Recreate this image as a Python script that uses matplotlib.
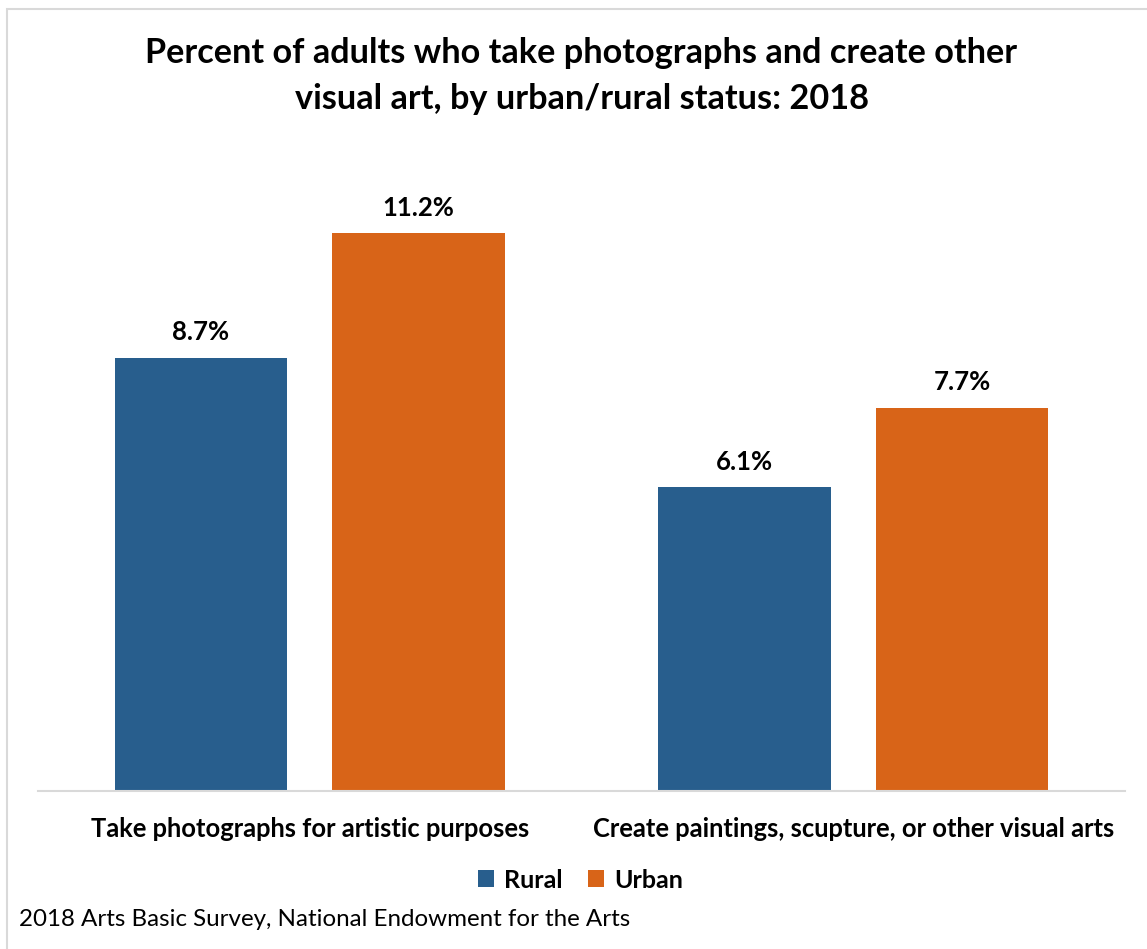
import numpy as np
import matplotlib.pyplot as plt
from matplotlib.patches import Rectangle

# Survey results, percent of adults
categories = ['Take photographs for artistic purposes',
              'Create paintings, scupture, or other visual arts']
series = ['Rural', 'Urban']
rural = [8.7, 6.1]
urban = [11.2, 7.7]
colors = ['#285E8D', '#D86418']

plt.rcParams['font.family'] = ['Lato', 'DejaVu Sans']

fig = plt.figure(figsize=(11.47, 9.49), dpi=100)
ax = fig.add_axes([38 / 1147, 1 - 791 / 949, 1087 / 1147, 622.5 / 949])

x = np.arange(len(categories))
width = 0.317
offset = 0.2
for vals, name, c, dx in [(rural, series[0], colors[0], -offset),
                          (urban, series[1], colors[1], offset)]:
    bars = ax.bar(x + dx, vals, width, color=c, label=name)
    for b, v in zip(bars, vals):
        ax.annotate(f'{v:.1f}%', (b.get_x() + b.get_width() / 2, v),
                    xytext=(0, 18.5), textcoords='offset points',
                    ha='center', va='center', fontsize=18.5, fontweight='bold')

ax.set_xlim(-0.5, 1.5)
ax.set_ylim(0, 12.5)
ax.set_yticks([])
ax.set_xticks(x)
ax.set_xticklabels(categories, fontsize=18.4, fontweight='bold')
ax.tick_params(axis='x', length=0, pad=19)
for s in ['top', 'right', 'left']:
    ax.spines[s].set_visible(False)
ax.spines['bottom'].set_color('#D9D9D9')
ax.spines['bottom'].set_linewidth(1.5)

fig.text(0.507, 1 - 76 / 949,
         'Percent of adults who take photographs and create other\n'
         'visual art, by urban/rural status: 2018',
         ha='center', va='center', fontsize=24.7, fontweight='bold',
         linespacing=1.55)

leg = fig.legend(loc='center', bbox_to_anchor=(0.506, 1 - 880 / 949), ncol=2,
                 frameon=False, handlelength=0.65, handleheight=0.65,
                 handletextpad=0.4, columnspacing=1.0,
                 prop={'size': 18, 'weight': 'bold'})

fig.text(19 / 1147, 1 - 920 / 949,
         '2018 Arts Basic Survey, National Endowment for the Arts',
         ha='left', va='center', fontsize=17.4)

# light outer frame
fig.patches.append(Rectangle((6.5 / 1147, -0.05), 1.2, 1 - 8.5 / 949 + 0.05,
                             transform=fig.transFigure, fill=False,
                             edgecolor='#D9D9D9', linewidth=1.5))

fig.savefig('out.png', dpi=100)
